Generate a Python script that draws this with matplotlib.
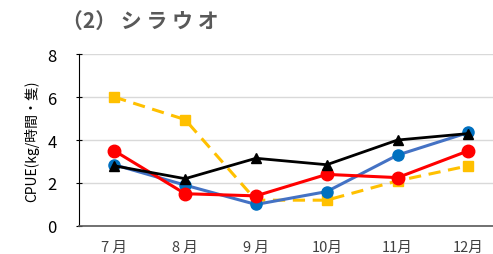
import matplotlib
matplotlib.use('Agg')
import matplotlib.pyplot as plt

plt.rcParams['font.family'] = ['Noto Sans CJK JP', 'DejaVu Sans']

months = ['7 月', '8 月', '9 月', '10月', '11月', '12月']
blue = [2.85, 1.9, 1.0, 1.6, 3.3, 4.35]
red = [3.5, 1.5, 1.4, 2.4, 2.25, 3.5]
black = [2.8, 2.2, 3.15, 2.85, 4.0, 4.3]
yellow = [6.0, 4.95, 1.2, 1.2, 2.1, 2.8]

fig = plt.figure(figsize=(4.93, 2.55), dpi=100)
ax = fig.add_axes([0.160, 0.110, 0.862, 0.674])
x = range(len(months))

ax.plot(x, yellow, color='#FFC000', lw=2.2, ls=(0, (4, 2.5)), marker='s', ms=7, zorder=3)
ax.plot(x, blue, color='#4472C4', lw=2.2, marker='o', ms=8, mfc='#0070C0', mec='#0070C0', zorder=4)
ax.plot(x, red, color='#FF0000', lw=2.2, marker='o', ms=9, zorder=5)
ax.plot(x, black, color='#000000', lw=2.0, marker='^', ms=7, zorder=6)

ax.set_xlim(-0.5, 5.5)
ax.set_ylim(0, 8)
ax.set_yticks([0, 2, 4, 6, 8])
ax.set_xticks(list(x))
ax.set_xticklabels(months, fontsize=10.5, color='#404040')
ax.tick_params(axis='y', labelsize=12, length=4, direction='inout', pad=14)
ax.tick_params(axis='x', length=0, pad=10)
ax.grid(axis='y', color='#D9D9D9', lw=1)
ax.set_axisbelow(True)
for s in ['top', 'right']:
    ax.spines[s].set_visible(False)
ax.spines['left'].set_color('black')
ax.spines['bottom'].set_color('#595959')
ax.spines['bottom'].set_linewidth(1.2)
ax.set_ylabel('CPUE(kg/時間・隻)', fontsize=10, labelpad=6)

fig.text(0.125, 0.915, '（2） シ ラ ウ オ', fontsize=15, fontweight='bold', color='#595959', va='center')

fig.savefig('out.png', dpi=100)
